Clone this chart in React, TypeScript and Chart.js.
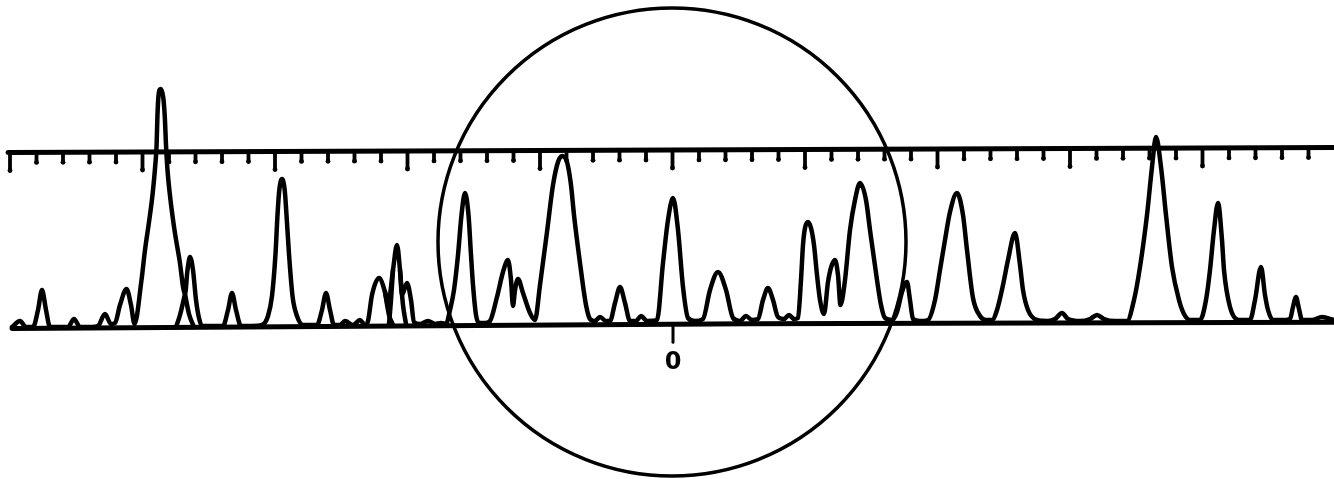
import React, { useEffect, useRef } from 'react';
import { Chart, registerables } from 'chart.js';

Chart.register(...registerables);

// Spectrum trace: [position, height above reference]
const spectrumPoints: [number, number][] = [
  [12, 3], [20, 9], [26, 3],
  [33, 3], [38, 20], [42, 40], [46, 20], [50, 3],
  [62, 3], [68, 3], [74, 11], [80, 3], [92, 3],
  [98, 4], [105, 16], [111, 6],
  [115, 7], [120, 25], [126.5, 41], [131, 25], [134.5, 6],
  [141.5, 50], [145, 80], [149, 108], [152.5, 135], [155.3, 165], [156.6, 185], [157.4, 213], [158.4, 233], [160.5, 241], [163.2, 233], [164.8, 213], [166, 185], [167.5, 160], [170.5, 130], [174.5, 100], [179.5, 70], [185, 36],
  [187.5, 60], [190, 73], [193, 60], [196, 30], [199, 12], [202, 4],
  [212, 4], [223, 4], [228, 20], [232, 37], [236, 20], [241, 4],
  [252, 4], [262, 5], [268, 14], [272, 34], [275.5, 76], [277.5, 115], [279.3, 140], [282, 151], [284.7, 140], [286.5, 115], [289, 76], [292.5, 34], [297, 14], [303, 5],
  [310, 5], [317, 5], [322, 20], [326, 37], [330, 20], [334, 5],
  [340, 5], [345, 9], [353, 5], [360, 10], [365, 5],
  [368, 9], [372, 35], [379, 52], [385, 38], [388, 25], [393, 60], [397, 85], [400, 60], [402, 35], [407, 47], [411, 30], [414, 8],
  [420, 6], [428, 9], [435, 6], [441, 7],
  [446, 6], [450, 20], [454, 40], [458, 75], [461.5, 115], [465, 137], [468.5, 115], [471, 75], [473, 45], [476, 15], [479, 7],
  [485, 7],
  [490, 9], [497, 33], [503, 58], [508, 70], [511, 50], [513, 24], [515, 40], [518, 51], [523, 37], [530, 17], [535, 10],
  [540, 45], [547, 98], [553, 145], [558, 168], [562, 174], [567, 168], [571, 145], [574, 115], [580, 67], [586, 25], [590, 11],
  [595, 9], [600, 13], [606, 9],
  [610, 9], [615, 27], [620, 43], [625, 27], [630, 9],
  [636, 9], [641, 14], [647, 9],
  [657, 10], [663, 67], [668, 110], [673, 132], [678, 100], [683, 43], [688, 12],
  [695, 9],
  [703, 11], [710, 40], [718, 58], [726, 40], [733, 12],
  [740, 9], [746, 14], [752, 10],
  [758, 11], [763, 30], [768, 42], [773, 30], [778, 13],
  [784, 11], [789, 15], [794, 11],
  [798, 12], [801, 50], [803, 85], [805, 102], [808, 108], [811, 102], [814, 85], [817, 55], [820, 30], [824, 16],
  [828, 48], [831.5, 64], [835, 70], [838, 55], [840.5, 25],
  [845, 50], [850, 100], [855, 130], [860, 147], [866, 130], [870, 100], [877, 50], [881, 25], [885, 12],
  [892, 10], [897, 18], [902, 38], [907, 48], [910, 30], [913, 11],
  [920, 9],
  [928, 10], [935, 30], [940, 60], [945, 90], [950, 118], [957, 137], [963, 115], [967, 80], [973, 32], [980, 14], [986, 10],
  [992, 10], [997, 20], [1003, 45], [1008, 70], [1015, 97], [1020, 65], [1023, 40], [1028, 20], [1037, 10],
  [1048, 9], [1055, 11], [1062, 17], [1068, 11], [1080, 9], [1090, 11], [1097, 15], [1104, 11], [1115, 9],
  [1127, 9], [1134, 30], [1140, 63], [1147, 115], [1152, 163], [1156, 193], [1161, 163], [1166, 115], [1172, 63], [1179, 30], [1184, 16], [1190, 10],
  [1200, 10], [1206, 30], [1210, 60], [1214, 100], [1218, 127], [1222, 90], [1224, 60], [1230, 23], [1239, 10],
  [1250, 10], [1255, 30], [1261, 63], [1265, 35], [1268, 20], [1273, 10],
  [1282, 10],
  [1290, 11], [1293, 23], [1296, 33], [1299, 21], [1302, 10],
  [1312, 10], [1322, 13], [1334, 10],
];

// Hidden flanks of overlapping peaks
const overlapStrokes: [number, number][][] = [
  [[176, 3], [180, 15], [185, 36]],
  [[185, 36], [189, 16], [194, 3]],
  [[385, 38], [389, 15], [393, 5]],
  [[389, 6], [391, 30], [393, 60]],
  [[400, 60], [403, 25], [406, 6]],
];

const rulerX = [8, 1334];
const rulerY = [177.5, 182.5];
const baseX = [12, 400, 750, 1334];
const baseY = [1.5, 4, 6.3, 7.7];
const rulerTicks = Array.from({ length: 50 }, (_, i) => 10 + 26.5 * i);
const majorEvery = 5;
const zeroMark = { x: 673, text: '0', labelY: -33 };
const circleCenter = { x: 672, y: 88 };
const circleRadius = 234;

const X_MIN = 0;
const X_MAX = 1334;
const Y_MIN = -149;
const Y_MAX = 330;

export default function App() {
  const ref = useRef<HTMLCanvasElement | null>(null);

  useEffect(() => {
    const canvas = ref.current;
    if (!canvas) return;

    const lineDs = (data: { x: number; y: number }[], width: number, monotone: boolean) => ({
      data,
      borderColor: '#000',
      backgroundColor: '#000',
      borderWidth: width,
      pointRadius: 0,
      fill: false,
      tension: 0,
      cubicInterpolationMode: monotone ? 'monotone' : 'default',
      borderCapStyle: 'round',
      borderJoinStyle: 'round',
    });

    const overlay = {
      id: 'overlay',
      afterDatasetsDraw(chart: any) {
        const { ctx, scales } = chart;
        const xs = scales.x;
        const ys = scales.y;
        ctx.save();
        ctx.strokeStyle = '#000';
        ctx.fillStyle = '#000';
        ctx.lineCap = 'round';

        // ruler ticks
        ctx.lineWidth = 3.8;
        rulerTicks.forEach((t, i) => {
          const ry = rulerY[0] + ((rulerY[1] - rulerY[0]) * (t - rulerX[0])) / (rulerX[1] - rulerX[0]);
          const px = xs.getPixelForValue(t);
          const py = ys.getPixelForValue(ry);
          const len = i % majorEvery === 0 ? 18 : 10;
          ctx.beginPath();
          ctx.moveTo(px, py);
          ctx.lineTo(px, py + len);
          ctx.stroke();
          ctx.beginPath();
          ctx.arc(px, py + len, 2.4, 0, Math.PI * 2);
          ctx.fill();
        });

        // circle
        const cx = xs.getPixelForValue(circleCenter.x);
        const cy = ys.getPixelForValue(circleCenter.y);
        const r = xs.getPixelForValue(circleCenter.x + circleRadius) - cx;
        ctx.lineWidth = 3.5;
        ctx.beginPath();
        ctx.arc(cx, cy, r, 0, Math.PI * 2);
        ctx.stroke();

        // zero mark below baseline
        const zx = xs.getPixelForValue(zeroMark.x);
        let bY = baseY[0];
        for (let i = 0; i < baseX.length - 1; i++) {
          if (zeroMark.x >= baseX[i] && zeroMark.x <= baseX[i + 1]) {
            bY = baseY[i] + ((baseY[i + 1] - baseY[i]) * (zeroMark.x - baseX[i])) / (baseX[i + 1] - baseX[i]);
          }
        }
        const zy = ys.getPixelForValue(bY);
        ctx.lineWidth = 3;
        ctx.beginPath();
        ctx.moveTo(zx, zy);
        ctx.lineTo(zx, zy + 18);
        ctx.stroke();

        ctx.font = 'bold 24px "DejaVu Sans"';
        ctx.textAlign = 'center';
        ctx.textBaseline = 'middle';
        ctx.fillText(zeroMark.text, zx, ys.getPixelForValue(zeroMark.labelY));
        ctx.restore();
      },
    };

    const datasets: any[] = [
      lineDs(rulerX.map((x, i) => ({ x, y: rulerY[i] })), 5, false),
      lineDs(baseX.map((x, i) => ({ x, y: baseY[i] })), 5, false),
      lineDs(spectrumPoints.map(([x, y]) => ({ x, y })), 4.5, true),
      ...overlapStrokes.map((s) => lineDs(s.map(([x, y]) => ({ x, y })), 4.5, true)),
    ];

    const chart = new Chart(canvas, {
      type: 'line',
      data: { datasets },
      options: {
        animation: false,
        responsive: false,
        maintainAspectRatio: false,
        layout: { padding: 0 },
        parsing: false as any,
        normalized: true,
        plugins: { legend: { display: false }, tooltip: { enabled: false } },
        scales: {
          x: { type: 'linear', min: X_MIN, max: X_MAX, display: false },
          y: { type: 'linear', min: Y_MIN, max: Y_MAX, display: false },
        },
      } as any,
      plugins: [overlay],
    });

    return () => chart.destroy();
  }, []);

  return (
    <div style={{ position: 'fixed', left: 0, top: 0, width: 1334, height: 479, background: '#fff' }}>
      <canvas ref={ref} width={1334} height={479} style={{ display: 'block', width: 1334, height: 479 }} />
    </div>
  );
}
